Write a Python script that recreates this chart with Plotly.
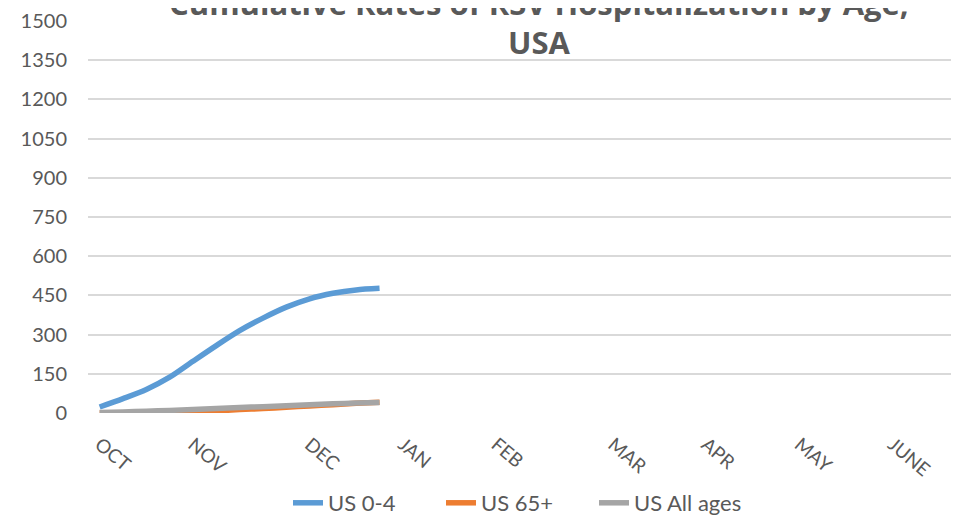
import plotly.graph_objects as go

# weekly categories (Oct .. end of June), month labels on first week of month
n_weeks = 37
month_weeks = [0, 4, 9, 13, 17, 22, 26, 30, 34]
month_labels = ["OCT", "NOV", "DEC", "JAN", "FEB", "MAR", "APR", "MAY", "JUNE"]

weeks_observed = list(range(13))
us_0_4 = [23, 55, 90, 137, 198, 258, 315, 363, 405, 437, 458, 471, 477]
us_65_plus = [0, 1, 2, 4, 6, 9, 13, 17, 22, 27, 32, 37, 41]
us_all_ages = [2, 4, 7, 10, 13, 17, 21, 24, 28, 32, 35, 38, 40]

y_ticks = list(range(0, 1501, 150))

title_line1 = "Cumulative Rates of RSV Hospitalization by Age,"
title_line2 = "USA"

TXT = "#595959"
FONT = "Lato"
TFONT = "Open Sans"

# page body has an 8px margin; figure sized to fit the 961x517 window
FW, FH = 953, 509
L, R, T, B = 80, 10, 13, 104
PW, PH = FW - L - R, FH - T - B
# screen-space plot area: x 88..951, y 21..413
PX0, PY1 = L + 8, T + 8 + PH


def px(x):
    return (x - PX0) / PW


def py(y):
    return (PY1 - y) / PH


fig = go.Figure()
for name, vals, col in [("US 0-4", us_0_4, "#5b9bd5"),
                        ("US 65+", us_65_plus, "#ed7d31"),
                        ("US All ages", us_all_ages, "#a5a5a5")]:
    fig.add_trace(go.Scatter(x=weeks_observed, y=vals, name=name, mode="lines",
                             line=dict(color=col, width=5.5, shape="spline", smoothing=0.8)))

fig.update_layout(
    width=FW, height=FH,
    margin=dict(l=L, r=R, t=T, b=B, autoexpand=False),
    paper_bgcolor="white", plot_bgcolor="white",
    font=dict(family=FONT, color=TXT, size=20),
    showlegend=True,
    legend=dict(orientation="h", x=px(288), xanchor="left",
                y=py(503), yanchor="middle", entrywidth=108, entrywidthmode="pixels",
                font=dict(size=22, color=TXT), tracegroupgap=0),
    xaxis=dict(range=[-0.5, n_weeks - 0.5], tickmode="array", tickvals=month_weeks,
               ticktext=month_labels, tickangle=40, showgrid=False, zeroline=False,
               showline=False, ticks="", tickfont=dict(size=19, color=TXT),
               ticklabelstandoff=16),
    yaxis=dict(range=[0, 1500], tickmode="array", tickvals=y_ticks, showgrid=True,
               gridcolor="#d9d9d9", gridwidth=1.5, zeroline=False, showline=False,
               ticks="", tickfont=dict(size=20, color=TXT), ticklabelstandoff=20),
)
fig.add_annotation(text="<b>" + title_line1 + "</b>", xref="paper", yref="paper",
                   x=px(538.5), y=py(3), xanchor="center", yanchor="middle",
                   showarrow=False, font=dict(size=31, color=TXT, family=TFONT))
fig.add_annotation(text="<b>" + title_line2 + "</b>", xref="paper", yref="paper",
                   x=px(539), y=py(42.5), xanchor="center", yanchor="middle",
                   showarrow=False, font=dict(size=31, color=TXT, family=TFONT))

fig.write_html("out.html")
